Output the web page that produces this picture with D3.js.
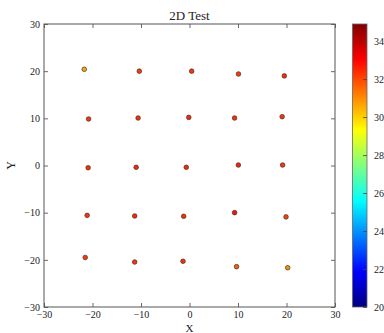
<!DOCTYPE html>
<html>
<head>
<meta charset="utf-8">
<script src="https://cdn.jsdelivr.net/npm/d3@7"></script>
<style>
  body { margin: 0; background: #fff; }
  text { font-family: "Liberation Serif", "DejaVu Serif", serif; fill: #222; }
</style>
</head>
<body>
<svg id="chart" width="384" height="333"></svg>
<script>
// scatter data
var xs = [-21.7, -10.35, 0.45, 10.1, 19.55,
          -20.8, -10.6, -0.15, 9.3, 19.1,
          -20.9, -11.0, -0.66, 10.07, 19.2,
          -21.1, -11.3, -1.2, 9.3, 19.9,
          -21.5, -11.3, -1.34, 9.7, 20.25];
var ys = [20.4, 20.0, 20.0, 19.4, 19.0,
          9.86, 10.07, 10.2, 10.07, 10.35,
          -0.47, -0.38, -0.38, 0.1, 0.1,
          -10.57, -10.7, -10.77, -10.0, -10.9,
          -19.5, -20.46, -20.3, -21.45, -21.67];
var vals = [30.6, 32.2, 32.3, 32.2, 32.4,
            32.3, 32.4, 32.5, 32.4, 32.3,
            32.4, 32.5, 32.5, 32.6, 32.3,
            32.3, 32.5, 32.4, 32.8, 32.1,
            32.2, 32.3, 32.4, 31.7, 31.0];
var axisTicks = [-30, -20, -10, 0, 10, 20, 30];
var cbarTicks = [20, 22, 24, 26, 28, 30, 32, 34];
var cmin = 20, cmax = 34.9;

var margins = {top: 24, left: 44, right: 49, bottom: 26};
var svgwidth = 384, svgheight = 333;
var width = svgwidth - margins.left - margins.right;
var height = svgheight - margins.top - margins.bottom;

var svg = d3.select('#chart');

// jet colormap
var jetStops = [[0, '#000080'], [0.125, '#0000ff'], [0.375, '#00ffff'],
                [0.625, '#ffff00'], [0.875, '#ff0000'], [1, '#800000']];
var jet = d3.scaleLinear()
  .domain(jetStops.map(function(d){ return d[0]; }))
  .range(jetStops.map(function(d){ return d[1]; }))
  .interpolate(d3.interpolateRgb);
var color = function(v){ return jet((v - cmin) / (cmax - cmin)); };

var x = d3.scaleLinear().domain([-30, 30]).range([0, width]);
var y = d3.scaleLinear().domain([-30, 30]).range([height, 0]);

var plot = svg.append('g').attr('transform', 'translate(' + margins.left + ',' + margins.top + ')');

function styleAxis(g, showText){
  g.select('.domain').remove();
  g.selectAll('.tick line').attr('stroke', '#444').attr('stroke-width', 0.8);
  g.selectAll('.tick text').style('font-size', '10px')
    .style('font-family', '"Liberation Serif", serif').attr('fill', '#222');
  if(!showText) g.selectAll('.tick text').remove();
}

plot.append('g').attr('transform', 'translate(0,' + height + ')')
  .call(d3.axisBottom(x).tickValues(axisTicks).tickSize(-4).tickPadding(4))
  .call(styleAxis, true);
plot.append('g')
  .call(d3.axisTop(x).tickValues(axisTicks).tickSize(-4))
  .call(styleAxis, false);
plot.append('g')
  .call(d3.axisLeft(y).tickValues(axisTicks).tickSize(-4).tickPadding(4))
  .call(styleAxis, true);
plot.append('g').attr('transform', 'translate(' + width + ',0)')
  .call(d3.axisRight(y).tickValues(axisTicks).tickSize(-4))
  .call(styleAxis, false);

plot.append('rect')
  .attr('width', width).attr('height', height)
  .attr('fill', 'none').attr('stroke', '#555').attr('stroke-width', 1);

var pts = xs.map(function(d, i){ return {x: d, y: ys[i], v: vals[i]}; });
plot.selectAll('.pt').data(pts).enter().append('circle')
  .attr('class', 'pt')
  .attr('cx', function(d){ return x(d.x); })
  .attr('cy', function(d){ return y(d.y); })
  .attr('r', 2.3)
  .attr('fill', function(d){ return color(d.v); })
  .attr('stroke', '#333')
  .attr('stroke-width', 0.7);

// title and axis labels
svg.append('text').attr('x', margins.left + width / 2).attr('y', 20)
  .attr('text-anchor', 'middle').style('font-size', '13px').text('2D Test');
svg.append('text').attr('x', margins.left + width / 2).attr('y', 332)
  .attr('text-anchor', 'middle').style('font-size', '11px').text('X');
svg.append('text')
  .attr('transform', 'translate(15,' + (margins.top + height / 2) + ') rotate(-90)')
  .attr('text-anchor', 'middle').style('font-size', '12px').text('Y');

// colorbar
var cbX = 352.5, cbW = 14.5;
var cy = d3.scaleLinear().domain([cmin, cmax]).range([margins.top + height, margins.top]);

var grad = svg.append('defs').append('linearGradient').attr('id', 'jetgrad')
  .attr('x1', 0).attr('y1', 1).attr('x2', 0).attr('y2', 0);
grad.selectAll('stop').data(jetStops).enter().append('stop')
  .attr('offset', function(d){ return d[0]; })
  .attr('stop-color', function(d){ return d[1]; });

svg.append('rect')
  .attr('x', cbX).attr('y', cy(cmax))
  .attr('width', cbW).attr('height', cy(cmin) - cy(cmax))
  .attr('fill', 'url(#jetgrad)')
  .attr('stroke', '#666').attr('stroke-width', 0.8);

svg.append('g').attr('transform', 'translate(' + (cbX + cbW) + ',0)')
  .call(d3.axisRight(cy).tickValues(cbarTicks).tickSize(-4).tickPadding(7))
  .call(styleAxis, true);
</script>
</body>
</html>
